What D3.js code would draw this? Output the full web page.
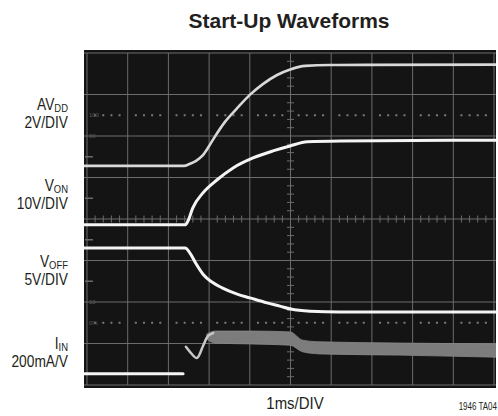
<!DOCTYPE html>
<html>
<head>
<meta charset="utf-8">
<script src="https://cdn.jsdelivr.net/npm/d3@7"></script>
<style>
  html, body { margin: 0; padding: 0; background: #fff; }
  svg { display: block; }
  text { font-family: "Liberation Sans", Arial, sans-serif; fill: #231f20; }
</style>
</head>
<body>
<svg id="chart" width="498" height="416"></svg>
<script>
// traces: [time in ms, level in divisions from centre line]
const avdd = [[-0.1, 1.28], [2.38, 1.28], [2.53, 1.33], [2.68, 1.40], [2.83, 1.52], [2.97, 1.71],
  [3.12, 1.95], [3.39, 2.34], [3.69, 2.67], [4.0, 2.99], [4.32, 3.25], [4.67, 3.47],
  [5.01, 3.61], [5.36, 3.69], [5.97, 3.71], [10.1, 3.72]];
const von = [[-0.1, -0.14], [2.41, -0.14], [2.48, -0.05], [2.60, 0.27], [2.85, 0.63], [3.19, 0.94],
  [3.59, 1.23], [4.08, 1.47], [4.57, 1.64], [4.99, 1.76], [5.41, 1.86], [6.22, 1.88], [10.1, 1.90]];
const voff = [[-0.1, -0.70], [2.41, -0.70], [2.53, -0.82], [2.68, -1.08], [2.85, -1.33], [3.07, -1.52],
  [3.32, -1.66], [3.69, -1.81], [4.0, -1.90], [4.42, -2.02], [4.74, -2.10], [5.01, -2.17],
  [5.48, -2.22], [6.22, -2.24], [10.1, -2.24]];
const iinBase = [[-0.1, -3.73], [2.36, -3.73]];
const iinSpike = [[2.43, -3.08], [2.53, -3.20], [2.70, -3.35], [2.85, -3.06], [2.97, -2.82], [3.10, -2.75]];
// ripple band: [time, top, bottom]
const iinBand = [[2.95, -2.77, -2.90], [3.14, -2.70, -2.99], [4.0, -2.70, -3.01], [4.99, -2.72, -3.04],
  [5.30, -2.92, -3.20], [5.72, -2.96, -3.25], [7.69, -2.99, -3.28], [10.1, -3.01, -3.33]];

const labels = [
  { main: "AV", sub: "DD", scale: "2V/DIV", y: 110 },
  { main: "V", sub: "ON", scale: "10V/DIV", y: 191 },
  { main: "V", sub: "OFF", scale: "5V/DIV", y: 267 },
  { main: "I", sub: "IN", scale: "200mA/V", y: 349 }
];
const markerLabels = [[2.5, "100"], [2, "90"], [-2, "10"], [-2.5, "0%"]];
const groundMarks = [1.5, 0.5, -0.5, -1.5];

const svg = d3.select("#chart");

const x = d3.scaleLinear().domain([0, 10]).range([87, 494]);
const y = d3.scaleLinear().domain([-4, 4]).range([385, 53]);

// condensed look: squeeze the text horizontally
function narrowText(sel, px, py, sx) {
  return sel.append("text")
    .attr("transform", `translate(${px},${py}) scale(${sx},1)`)
    .attr("x", 0).attr("y", 0);
}

// scope screen
svg.append("rect")
  .attr("x", 84).attr("y", 50)
  .attr("width", 412).attr("height", 338)
  .attr("fill", "#141414");

const grid = svg.append("g").attr("stroke", "#6c6c6c").attr("stroke-width", 1);

// graticule
grid.selectAll(".vline")
  .data(d3.range(0, 11))
  .enter().append("line")
  .attr("x1", d => x(d)).attr("x2", d => x(d))
  .attr("y1", y(4)).attr("y2", y(-4));

grid.selectAll(".hline")
  .data(d3.range(-4, 5))
  .enter().append("line")
  .attr("x1", 84).attr("x2", 496)
  .attr("y1", d => y(d)).attr("y2", d => y(d));

// minor ticks on centre axes
const minor = d3.range(-20, 21).map(d => d / 5).filter(d => Math.abs(d % 1) > 0.01);
grid.selectAll(".ytick")
  .data(minor)
  .enter().append("line")
  .attr("x1", x(5) - 3.5).attr("x2", x(5) + 3.5)
  .attr("y1", d => y(d)).attr("y2", d => y(d));

const minorX = d3.range(0, 51).map(d => d / 5).filter(d => Math.abs(d % 1) > 0.01);
grid.selectAll(".xtick")
  .data(minorX)
  .enter().append("line")
  .attr("x1", d => x(d)).attr("x2", d => x(d))
  .attr("y1", y(0) - 3.5).attr("y2", y(0) + 3.5);

// dotted 0% / 100% lines
[2.5, -2.5].forEach(lv => {
  svg.append("g").selectAll("rect")
    .data(minorX)
    .enter().append("rect")
    .attr("x", d => x(d) - 1).attr("y", y(lv) - 1)
    .attr("width", 2).attr("height", 2)
    .attr("fill", "#7a7a7a");
});

svg.append("g").selectAll("text")
  .data(markerLabels)
  .enter().append("text")
  .attr("x", 89).attr("y", d => y(d[0]) + 2)
  .style("font-size", "6px")
  .style("fill", "#5a5a5a")
  .text(d => d[1]);

svg.append("g").selectAll("line")
  .data(groundMarks)
  .enter().append("line")
  .attr("x1", 85).attr("x2", 93)
  .attr("y1", d => y(d)).attr("y2", d => y(d))
  .attr("stroke", "#6a6a6a").attr("stroke-width", 1.5);

// traces
const line = d3.line().x(d => x(d[0])).y(d => y(d[1])).curve(d3.curveMonotoneX);
const trace = svg.append("g").attr("fill", "none").attr("stroke-linecap", "round");

svg.append("defs").append("clipPath").attr("id", "screen")
  .append("rect").attr("x", 84).attr("y", 50).attr("width", 412).attr("height", 338);
trace.attr("clip-path", "url(#screen)");

const area = d3.area().x(d => x(d[0])).y0(d => y(d[2])).y1(d => y(d[1])).curve(d3.curveMonotoneX);
trace.append("path").datum(iinBand)
  .attr("d", area).attr("fill", "#7c7c7c").attr("stroke", "#8a8a8a").attr("stroke-width", 0.8);

trace.append("path").datum(avdd).attr("d", line).attr("stroke", "#d8d8d8").attr("stroke-width", 2.6);
trace.append("path").datum(von).attr("d", line).attr("stroke", "#f4f4f4").attr("stroke-width", 3);
trace.append("path").datum(voff).attr("d", line).attr("stroke", "#f4f4f4").attr("stroke-width", 3);
trace.append("path").datum(iinBase).attr("d", line).attr("stroke", "#f4f4f4").attr("stroke-width", 3);
trace.append("path").datum(iinSpike).attr("d", d3.line().x(d => x(d[0])).y(d => y(d[1])).curve(d3.curveCatmullRom))
  .attr("stroke", "#c8c8c8").attr("stroke-width", 2.5);

// labels
const lab = svg.append("g");
labels.forEach(d => {
  const t = narrowText(lab, 68, d.y, 0.86).attr("text-anchor", "end").style("font-size", "16px");
  t.append("tspan").text(d.main);
  t.append("tspan").attr("dy", 2).style("font-size", "11px").text(d.sub);
  narrowText(lab, 68, d.y + 18, 0.86).attr("text-anchor", "end").style("font-size", "16px").text(d.scale);
});

narrowText(svg, 289, 28, 1)
  .attr("text-anchor", "middle")
  .style("font-size", "21px")
  .style("font-weight", "bold")
  .text("Start-Up Waveforms");

narrowText(svg, 295, 409, 0.88)
  .attr("text-anchor", "middle")
  .style("font-size", "17px")
  .text("1ms/DIV");

narrowText(svg, 497, 410, 0.8)
  .attr("text-anchor", "end")
  .style("font-size", "10px")
  .text("1946 TA04");
</script>
</body>
</html>
